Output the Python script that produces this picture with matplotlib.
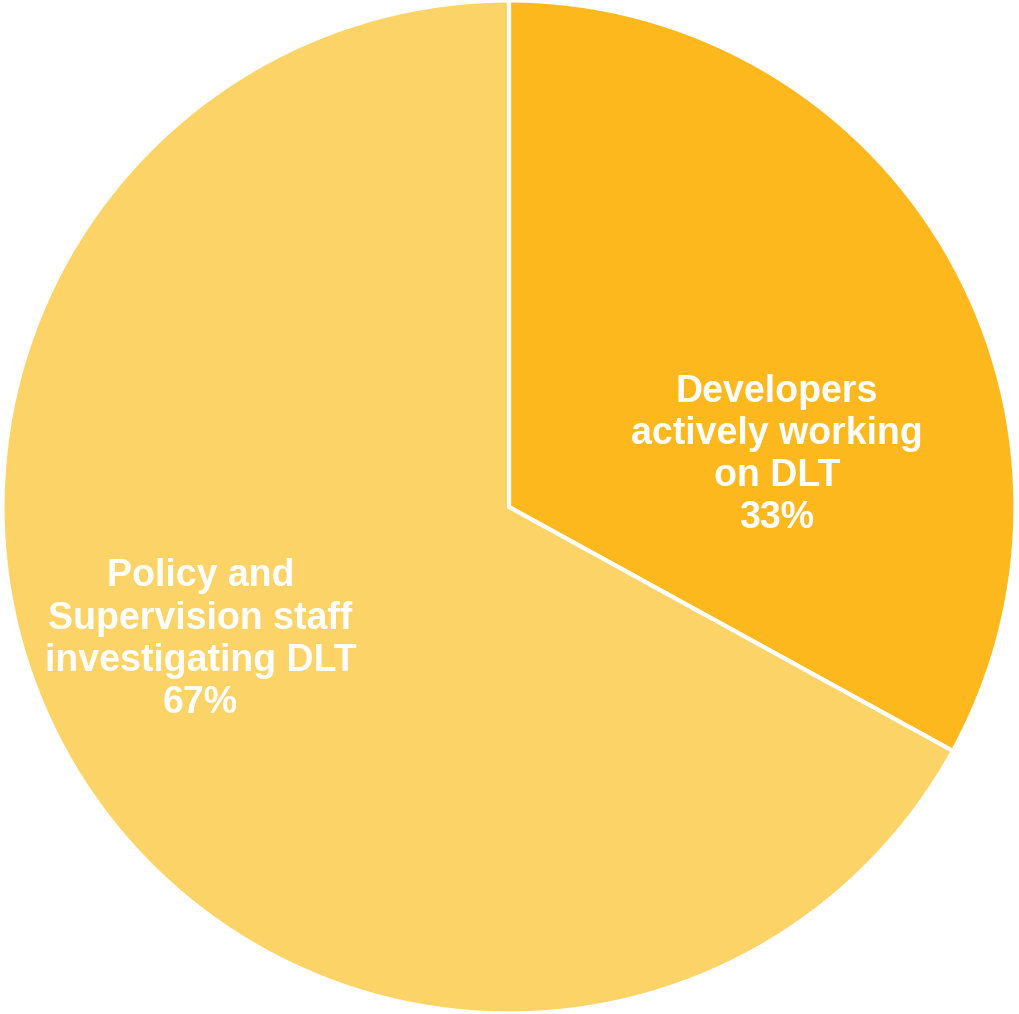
import matplotlib
matplotlib.use("Agg")
import matplotlib.pyplot as plt

# Share of staff working with DLT
labels = ["Developers\nactively working\non DLT", "Policy and\nSupervision staff\ninvestigating DLT"]
shares = [33, 67]
colors = ["#FDB81E", "#FCD367"]
label_pos = [(0.529, 0.103), (-0.609, -0.262)]

plt.rcParams['font.family'] = ['Liberation Sans', 'DejaVu Sans']

fig = plt.figure(figsize=(10.19, 10.14), dpi=100)
ax = fig.add_axes([0, 0, 1, 1])

wedges, _ = ax.pie(shares, colors=colors, startangle=90, counterclock=False,
                   radius=1.0, wedgeprops=dict(edgecolor="white", linewidth=3))

for lab, val, (x, y) in zip(labels, shares, label_pos):
    ax.text(x, y, f"{lab}\n{val}%", ha="center", va="center", color="white",
            fontsize=27, fontweight="bold", linespacing=1.22)

ax.set_xlim(-509 / 506.5, (1019 - 509) / 506.5)
ax.set_ylim(-507 / 506.5, (1014 - 507) / 506.5)
ax.set_aspect("auto")
ax.axis("off")

fig.savefig("out.png", dpi=100, facecolor="white")
